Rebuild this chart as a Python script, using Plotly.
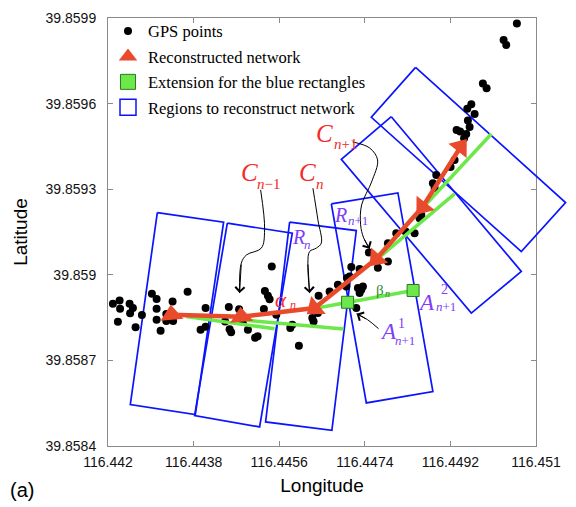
import plotly.graph_objects as go

# ---------------- data ----------------
x_tickvals = [116.442, 116.4438, 116.4456, 116.4474, 116.4492, 116.451]
x_ticktext = ["116.442", "116.4438", "116.4456", "116.4474", "116.4492", "116.451"]
y_tickvals = [39.8584, 39.8587, 39.8590, 39.8593, 39.8596, 39.8599]
y_ticktext = ["39.8584", "39.8587", "39.859", "39.8593", "39.8596", "39.8599"]
x_range = [116.442, 116.451]
y_range = [39.8584, 39.8599]

gps_lon = [116.442103, 116.442244, 116.442254, 116.442454, 116.442524, 116.442465, 116.442208,
           116.442580, 116.442713, 116.442923, 116.443022, 116.443022, 116.443022, 116.443106,
           116.443226, 116.443226, 116.443358, 116.443369, 116.443674, 116.444052, 116.444052,
           116.443947, 116.444540, 116.444462, 116.444557, 116.444589, 116.444757, 116.444837,
           116.444942, 116.445093, 116.445146, 116.445299, 116.445362, 116.445398, 116.445444,
           116.445278, 116.445539, 116.445833, 116.445875, 116.446014, 116.446296, 116.446323,
           116.446429, 116.446414, 116.446660, 116.446834, 116.447024, 116.447011, 116.447116,
           116.447255, 116.447326, 116.447291, 116.447291, 116.447486, 116.447675, 116.447886,
           116.448062, 116.447221, 116.447080, 116.447886, 116.448258, 116.448447, 116.448552,
           116.448588, 116.448832, 116.448903, 116.449204, 116.449288, 116.449488, 116.449534,
           116.449330, 116.449404, 116.449604, 116.449568, 116.449709, 116.449555, 116.449640,
           116.449883, 116.449961, 116.450319, 116.450375, 116.450598, 116.447360, 116.448868]
gps_lat = [39.8588985, 39.8589100, 39.8588810, 39.8588985, 39.8588834, 39.8588652, 39.8588355,
           39.8588162, 39.8588589, 39.8589335, 39.8589149, 39.8588810, 39.8588425, 39.8588040,
           39.8588624, 39.8588379, 39.8589065, 39.8588379, 39.8589405, 39.8588834, 39.8588180,
           39.8588075, 39.8588869, 39.8588365, 39.8588092, 39.8587987, 39.8588792, 39.8588365,
           39.8588075, 39.8587795, 39.8587847, 39.8589433, 39.8589265, 39.8589142, 39.8590291,
           39.8588799, 39.8588600, 39.8588134, 39.8588250, 39.8587515, 39.8588484, 39.8588365,
           39.8589265, 39.8588659, 39.8589415, 39.8589650, 39.8589884, 39.8589590, 39.8590270,
           39.8589534, 39.8589475, 39.8589359, 39.8590200, 39.8590781, 39.8590245, 39.8590466,
           39.8591460, 39.8588834, 39.8589940, 39.8591110, 39.8591516, 39.8591460, 39.8591985,
           39.8592100, 39.8593210, 39.8593500, 39.8593780, 39.8594026, 39.8594785, 39.8594936,
           39.8595076, 39.8595023, 39.8595181, 39.8595408, 39.8595636, 39.8595818, 39.8595979,
           39.8596704, 39.8596536, 39.8598226, 39.8598051, 39.8598811, 39.8589590, 39.8593045]

net_lon = [116.449414, 116.448615, 116.447642, 116.446344, 116.444803, 116.443337]
net_lat = [39.8594481, 39.8592380, 39.8590560, 39.8588834, 39.8588530, 39.8588600]

ext1_lon = [116.443646, 116.445503]
ext1_lat = [39.8588540, 39.8588110]
ext2_lon = [116.444908, 116.446954]
ext2_lat = [39.8588407, 39.8588100]
ext3_lon = [116.446365, 116.447038, 116.448416]
ext3_lat = [39.8588827, 39.8589037, 39.8589450]
ext4_lon = [116.447570, 116.450060]
ext4_lat = [39.8590466, 39.8594936]
ext5_lon = [116.447669, 116.449288]
ext5_lat = [39.8590560, 39.8592835]

anchor_lon = [116.447038, 116.448416]
anchor_lat = [39.8589037, 39.8589450]

rect1_lon = [116.443037, 116.444431, 116.443836, 116.442469]
rect1_lat = [39.8592181, 39.8591845, 39.8585099, 39.8585449]
rect2_lon = [116.444509, 116.445875, 116.445188, 116.443821]
rect2_lat = [39.8591810, 39.8591460, 39.8584669, 39.8585064]
rect3_lon = [116.445819, 116.447221, 116.446708, 116.445314]
rect3_lat = [39.8591845, 39.8591551, 39.8584550, 39.8584844]
rect4_lon = [116.446696, 116.448096, 116.448832, 116.447432]
rect4_lat = [39.8592485, 39.8592870, 39.8585904, 39.8585509]
rect5_lon = [116.448468, 116.451622, 116.450691, 116.447537]
rect5_lat = [39.8597271, 39.8592531, 39.8590816, 39.8595520]
rect6_lon = [116.447957, 116.450691, 116.449640, 116.446906]
rect6_lat = [39.8595541, 39.8590116, 39.8588659, 39.8594050]

# callout curves (label -> node)
cA_lon = [116.445209, 116.445293, 116.445224, 116.444914, 116.444803, 116.444767]
cA_lat = [39.8592976, 39.8591575, 39.8590935, 39.8590700, 39.8590410, 39.8589359]
cB_lon = [116.446309, 116.446414, 116.446485, 116.446380, 116.446239, 116.446203, 116.446239]
cB_lat = [39.8593035, 39.8591925, 39.8591110, 39.8590935, 39.8590816, 39.8590410, 39.8589359]
cC_lon = [116.447143, 116.447501, 116.447669, 116.447543, 116.447333, 116.447312, 116.447375, 116.447501]
cC_lat = [39.8594656, 39.8594446, 39.8594026, 39.8593256, 39.8592450, 39.8591750, 39.8591295, 39.8590910]
cD_lon = [116.447690, 116.447459, 116.447228]
cD_lat = [39.8588110, 39.8588425, 39.8588635]

# ---------------- styles ----------------
BLUE = "#0A14FF"
RED = "#EA4A2C"
GREEN = "#6CE84A"
PURPLE = "#7E3DFA"
LABEL_RED = "#F42A2A"
SERIF = "Liberation Serif"
SANS = "Liberation Sans"

W, H = 576, 507
ML, MR, MT, MB = 108, 6, 18, 61
AXIS_W = 428  # pixel width of the boxed axes; drawing layer extends further right (unclipped look)
draw_w = W - ML - MR
x2_range = [x_range[0], x_range[0] + (x_range[1] - x_range[0]) * draw_w / AXIS_W]

fig = go.Figure()
XA, YA = "x2", "y2"

# invisible trace so the boxed main axes are drawn
fig.add_trace(go.Scatter(x=[None], y=[None], mode="markers", xaxis="x", yaxis="y",
                         showlegend=False, hoverinfo="skip"))

rects = [(rect1_lon, rect1_lat), (rect2_lon, rect2_lat), (rect3_lon, rect3_lat),
         (rect4_lon, rect4_lat), (rect5_lon, rect5_lat), (rect6_lon, rect6_lat)]
for lon, lat in rects:
    fig.add_trace(go.Scatter(x=lon + [lon[0]], y=lat + [lat[0]], mode="lines", xaxis=XA, yaxis=YA,
                             line=dict(color=BLUE, width=1.7), showlegend=False,
                             hoverinfo="skip"))

fig.add_trace(go.Scatter(x=gps_lon, y=gps_lat, mode="markers", name="GPS points",
                         legendgroup="g1", xaxis=XA, yaxis=YA,
                         marker=dict(color="black", size=8, line=dict(width=0))))

for lon, lat in [(ext1_lon, ext1_lat), (ext2_lon, ext2_lat), (ext3_lon, ext3_lat),
                 (ext4_lon, ext4_lat), (ext5_lon, ext5_lat)]:
    fig.add_trace(go.Scatter(x=lon, y=lat, mode="lines", line=dict(color=GREEN, width=3.5),
                             xaxis=XA, yaxis=YA, showlegend=False, hoverinfo="skip"))

fig.add_trace(go.Scatter(x=net_lon, y=net_lat, mode="lines+markers", showlegend=False,
                         xaxis=XA, yaxis=YA,
                         line=dict(color=RED, width=4.5),
                         marker=dict(symbol="triangle-up", size=20, color=RED,
                                     angle=[38, 218, 222, 231, -5, -5])))

fig.add_trace(go.Scatter(x=anchor_lon, y=anchor_lat, mode="markers", showlegend=False,
                         xaxis=XA, yaxis=YA,
                         marker=dict(symbol="square", size=12, color=GREEN,
                                     line=dict(color="#2B7A1E", width=1))))

for lon, lat in [(cA_lon, cA_lat), (cB_lon, cB_lat), (cC_lon, cC_lat), (cD_lon, cD_lat)]:
    fig.add_trace(go.Scatter(x=lon, y=lat, mode="lines", line=dict(color="black", width=1, shape="spline"),
                             xaxis=XA, yaxis=YA, showlegend=False, hoverinfo="skip"))
    fig.add_annotation(x=lon[-1], y=lat[-1], ax=lon[-2], ay=lat[-2], xref=XA, yref=YA,
                       axref=XA, ayref=YA,
                       text="", showarrow=True, arrowhead=4, arrowsize=1.8, arrowwidth=1,
                       arrowcolor="black")

# legend entries
fig.add_trace(go.Scatter(x=[None], y=[None], mode="markers", name="Reconstructed network",
                         legendgroup="g2", xaxis=XA, yaxis=YA,
                         marker=dict(symbol="triangle-up", size=17, color=RED)))
fig.add_trace(go.Scatter(x=[None], y=[None], mode="markers", name="Extension for the blue rectangles",
                         legendgroup="g3", xaxis=XA, yaxis=YA,
                         marker=dict(symbol="square", size=15, color=GREEN,
                                     line=dict(color="#2B7A1E", width=1))))
fig.add_trace(go.Scatter(x=[None], y=[None], mode="markers", name="Regions to reconstruct network",
                         legendgroup="g4", xaxis=XA, yaxis=YA,
                         marker=dict(symbol="square-open", size=18, color=BLUE,
                                     line=dict(width=1.5))))

# labels
def lab(text, x, y, size, color, family=SERIF):
    fig.add_annotation(x=x, y=y, xref=XA, yref=YA, text=text, showarrow=False,
                       xanchor="center", yanchor="middle",
                       font=dict(family=family, size=size, color=color))

lab("<i>C</i>", 116.444978, 39.8593571, 25, LABEL_RED)
lab("<i>n</i>−1", 116.445376, 39.8593186, 15, LABEL_RED)
lab("<i>C</i>", 116.446197, 39.8593571, 25, LABEL_RED)
lab("<i>n</i>", 116.446449, 39.8593186, 15, LABEL_RED)
lab("<i>C</i>", 116.446543, 39.8594936, 25, LABEL_RED)
lab("<i>n</i>+1", 116.446991, 39.8594586, 15, LABEL_RED)
lab("<i>R</i>", 116.446008, 39.8591330, 20, PURPLE)
lab("<i>n</i>", 116.446196, 39.8591050, 13, PURPLE)
lab("<i>R</i>", 116.446891, 39.8592100, 20, PURPLE)
lab("<i>n</i>+1", 116.447248, 39.8591890, 13, PURPLE)
lab("<i>α</i>", 116.445629, 39.8589125, 21, LABEL_RED)
lab("<i>n</i>", 116.445882, 39.8588950, 12, LABEL_RED)
lab("β", 116.447711, 39.8589475, 15, "#2F8A34")
lab("<i>n</i>", 116.447880, 39.8589335, 10, "#2F8A34")
lab("<i>A</i>", 116.448700, 39.8589037, 23, PURPLE)
lab("2", 116.449078, 39.8589500, 14, PURPLE)
lab("<i>n</i>+1", 116.449098, 39.8588880, 13, PURPLE)
lab("<i>A</i>", 116.447900, 39.8588022, 23, PURPLE)
lab("1", 116.448174, 39.8588310, 14, PURPLE)
lab("<i>n</i>+1", 116.448236, 39.8587700, 13, PURPLE)

fig.add_annotation(x=(22 - ML) / draw_w, y=-0.103, xref="paper", yref="paper", text="(a)",
                   showarrow=False, xanchor="center", yanchor="middle",
                   font=dict(family=SANS, size=20, color="black"))

axis_common = dict(showline=True, linecolor="#8A8A8A", linewidth=1, mirror="ticks",
                   ticks="inside", ticklen=5, tickcolor="#8A8A8A", showgrid=False,
                   zeroline=False, tickfont=dict(family=SANS, size=14, color="#111111"))

fig.update_layout(
    width=W, height=H,
    margin=dict(l=ML, r=MR, t=MT, b=MB, autoexpand=False),
    plot_bgcolor="rgba(0,0,0,0)", paper_bgcolor="white",
    showlegend=True,
    xaxis=dict(domain=[0, AXIS_W / draw_w], range=x_range, tickvals=x_tickvals, ticktext=x_ticktext,
               anchor="y", ticklabelstandoff=3,
               title=dict(text="Longitude", font=dict(family=SANS, size=19, color="black"), standoff=9),
               **axis_common),
    yaxis=dict(domain=[0, 1], range=y_range, tickvals=y_tickvals, ticktext=y_ticktext,
               anchor="x", ticklabelstandoff=8,
               title=dict(text="Latitude", font=dict(family=SANS, size=19, color="black"), standoff=12),
               **axis_common),
    xaxis2=dict(domain=[0, 1], range=x2_range, anchor="y2", visible=False),
    yaxis2=dict(domain=[0, 1], range=y_range, anchor="x2", visible=False),
    legend=dict(x=0, y=1.01, xanchor="left", yanchor="top", bgcolor="rgba(0,0,0,0)",
                font=dict(family=SERIF, size=16.5, color="black"), tracegroupgap=1,
                itemsizing="trace"),
)

fig.write_html("out.html")
